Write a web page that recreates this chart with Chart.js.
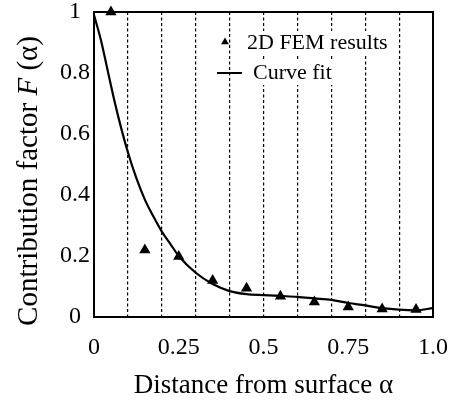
<!DOCTYPE html>
<html>
<head>
<meta charset="utf-8">
<script src="https://cdn.jsdelivr.net/npm/chart.js@4/dist/chart.umd.min.js"></script>
<style>
html,body{margin:0;padding:0;background:#fff;}
#wrap{width:453px;height:402px;position:relative;}
</style>
</head>
<body>
<div id="wrap"><canvas id="c" width="453" height="402"></canvas></div>
<script>
// ---- data ----
const femX = [0.05, 0.15, 0.25, 0.35, 0.45, 0.55, 0.65, 0.75, 0.85, 0.95];
const femY = [1.0, 0.22, 0.198, 0.12, 0.094, 0.068, 0.049, 0.033, 0.026, 0.025];

const fitX = [0, 0.02, 0.04, 0.06, 0.08, 0.10, 0.125, 0.15, 0.175, 0.20, 0.225, 0.25, 0.30, 0.35, 0.40, 0.45, 0.50, 0.55, 0.60, 0.65, 0.70, 0.75, 0.80, 0.85, 0.90, 0.95, 1.0];
const fitY = [0.99, 0.91, 0.81, 0.71, 0.62, 0.54, 0.455, 0.385, 0.33, 0.28, 0.24, 0.2, 0.145, 0.108, 0.085, 0.075, 0.072, 0.069, 0.066, 0.061, 0.056, 0.046, 0.038, 0.029, 0.024, 0.022, 0.029];

const xTickValues = [0, 0.25, 0.5, 0.75, 1.0];
const xTickLabels = ['0', '0.25', '0.5', '0.75', '1.0'];
const yTickValues = [0, 0.2, 0.4, 0.6, 0.8, 1.0];
const yTickLabels = ['0', '0.2', '0.4', '0.6', '0.8', '1'];
const dashGridValues = [0.1, 0.2, 0.3, 0.4, 0.5, 0.6, 0.7, 0.8, 0.9];

const seriesLabels = ['2D FEM results', 'Curve fit'];
const xTitle = 'Distance from surface \u03b1';
// y title pieces: [text, italic?]
const yTitleParts = [['Contribution factor ', false], ['F', true], [' (\u03b1)', false]];

const FONT = '"Liberation Serif", "Times New Roman", serif';

// ---- plugins ----
const bgPlugin = {
  id: 'bg',
  beforeDraw(chart) {
    const ctx = chart.ctx;
    ctx.save(); ctx.fillStyle = '#fff';
    ctx.fillRect(0, 0, chart.width, chart.height); ctx.restore();
  }
};
const framePlugin = {
  id: 'frame',
  afterDatasetsDraw(chart) {
    const a = chart.chartArea, ctx = chart.ctx;
    ctx.save(); ctx.strokeStyle = '#000'; ctx.lineWidth = 2;
    ctx.strokeRect(a.left, a.top, a.right - a.left, a.bottom - a.top);
    ctx.restore();
  }
};
const yTitlePlugin = {
  id: 'yTitle',
  afterDraw(chart) {
    const ctx = chart.ctx;
    const size = 29;
    const fonts = yTitleParts.map(p => (p[1] ? 'italic ' : '') + size + 'px ' + FONT);
    ctx.save();
    let total = 0;
    const widths = yTitleParts.map((p, i) => { ctx.font = fonts[i]; const w = ctx.measureText(p[0]).width; total += w; return w; });
    const cx = 29, cy = 181;
    ctx.translate(cx, cy);
    ctx.rotate(-Math.PI / 2);
    ctx.textBaseline = 'middle';
    ctx.textAlign = 'left';
    ctx.fillStyle = '#000';
    let x = -total / 2;
    yTitleParts.forEach((p, i) => { ctx.font = fonts[i]; ctx.fillText(p[0], x, 0); x += widths[i]; });
    ctx.restore();
  }
};
const legendPlugin = {
  id: 'customLegend',
  afterDraw(chart) {
    const a = chart.chartArea, ctx = chart.ctx;
    const ds = chart.data.datasets;
    ctx.save();
    ctx.font = '22px ' + FONT;
    ctx.textBaseline = 'middle';
    ctx.textAlign = 'left';
    const y1 = a.top + 31, y2 = a.top + 61;
    const tx1 = a.left + 153, tx2 = a.left + 159;
    ctx.fillStyle = '#fff';
    let w = ctx.measureText(ds[0].label).width;
    ctx.fillRect(tx1 - 2, y1 - 12, w + 4, 24);
    w = ctx.measureText(ds[1].label).width;
    ctx.fillRect(tx2 - 2, y2 - 12, w + 4, 24);
    ctx.fillStyle = '#000';
    ctx.fillText(ds[0].label, tx1, y1);
    ctx.fillText(ds[1].label, tx2, y2);
    // symbols
    ctx.beginPath();
    const r = 4.5;
    const cx = a.left + 131, cy = y1 - 1;
    ctx.moveTo(cx, cy - r);
    ctx.lineTo(cx + r * 0.866, cy + r * 0.5);
    ctx.lineTo(cx - r * 0.866, cy + r * 0.5);
    ctx.closePath(); ctx.fill();
    ctx.strokeStyle = '#000'; ctx.lineWidth = 2;
    ctx.beginPath();
    ctx.moveTo(a.left + 123, y2); ctx.lineTo(a.left + 148, y2); ctx.stroke();
    ctx.restore();
  }
};

const femData = femX.map((x, i) => ({x, y: femY[i]}));
const fitData = fitX.map((x, i) => ({x, y: fitY[i]}));

new Chart(document.getElementById('c'), {
  type: 'scatter',
  data: {
    datasets: [
      {
        label: seriesLabels[0],
        data: femData,
        pointStyle: 'triangle',
        pointRadius: 6.5,
        pointHoverRadius: 6.5,
        backgroundColor: '#000',
        borderColor: '#000',
        borderWidth: 0,
        showLine: false,
        clip: false,
        order: 0
      },
      {
        label: seriesLabels[1],
        data: fitData,
        showLine: true,
        borderColor: '#000',
        backgroundColor: '#000',
        borderWidth: 2.2,
        pointRadius: 0,
        pointHoverRadius: 0,
        cubicInterpolationMode: 'monotone',
        clip: false,
        order: 1
      }
    ]
  },
  options: {
    responsive: false,
    animation: false,
    events: [],
    layout: {padding: {left: 0, right: 20, top: 12, bottom: 0}},
    plugins: {
      legend: {display: false},
      tooltip: {enabled: false}
    },
    scales: {
      x: {
        type: 'linear', position: 'bottom', min: 0, max: 1,
        afterBuildTicks(scale) { scale.ticks = xTickValues.map(v => ({value: v})); },
        afterFit(scale) { scale.height = 85; scale.paddingLeft = 0; scale.paddingRight = 0; },
        ticks: {
          color: '#000', font: {family: FONT, size: 24}, padding: 16, maxRotation: 0,
          callback(v) { const i = xTickValues.indexOf(v); return i >= 0 ? xTickLabels[i] : ''; }
        },
        grid: {display: false, drawTicks: false},
        border: {display: true, color: '#000', width: 2},
        title: {display: true, text: xTitle, color: '#000', font: {family: FONT, size: 27}, padding: {top: 0, bottom: 0}}
      },
      xg: {
        type: 'linear', position: 'bottom', min: 0, max: 1,
        afterBuildTicks(scale) { scale.ticks = dashGridValues.map(v => ({value: v})); },
        afterFit(scale) { scale.height = 0; scale.paddingLeft = 0; scale.paddingRight = 0; },
        ticks: {display: false},
        grid: {display: true, drawTicks: false, color: '#000', lineWidth: 1.2},
        border: {display: false, dash: [3, 2.5]}
      },
      y: {
        type: 'linear', position: 'left', min: 0, max: 1,
        afterBuildTicks(scale) { scale.ticks = yTickValues.map(v => ({value: v})); },
        afterFit(scale) { scale.width = 94; scale.paddingTop = 0; scale.paddingBottom = 0; },
        ticks: {
          color: '#000', font: {family: FONT, size: 24}, padding: 4, crossAlign: 'center',
          callback(v) { const i = yTickValues.findIndex(t => Math.abs(t - v) < 1e-9); return i >= 0 ? yTickLabels[i] : ''; }
        },
        grid: {display: false, drawTicks: false},
        border: {display: true, color: '#000', width: 2},
        title: {display: false}
      }
    }
  },
  plugins: [bgPlugin, framePlugin, yTitlePlugin, legendPlugin]
});
</script>
</body>
</html>
